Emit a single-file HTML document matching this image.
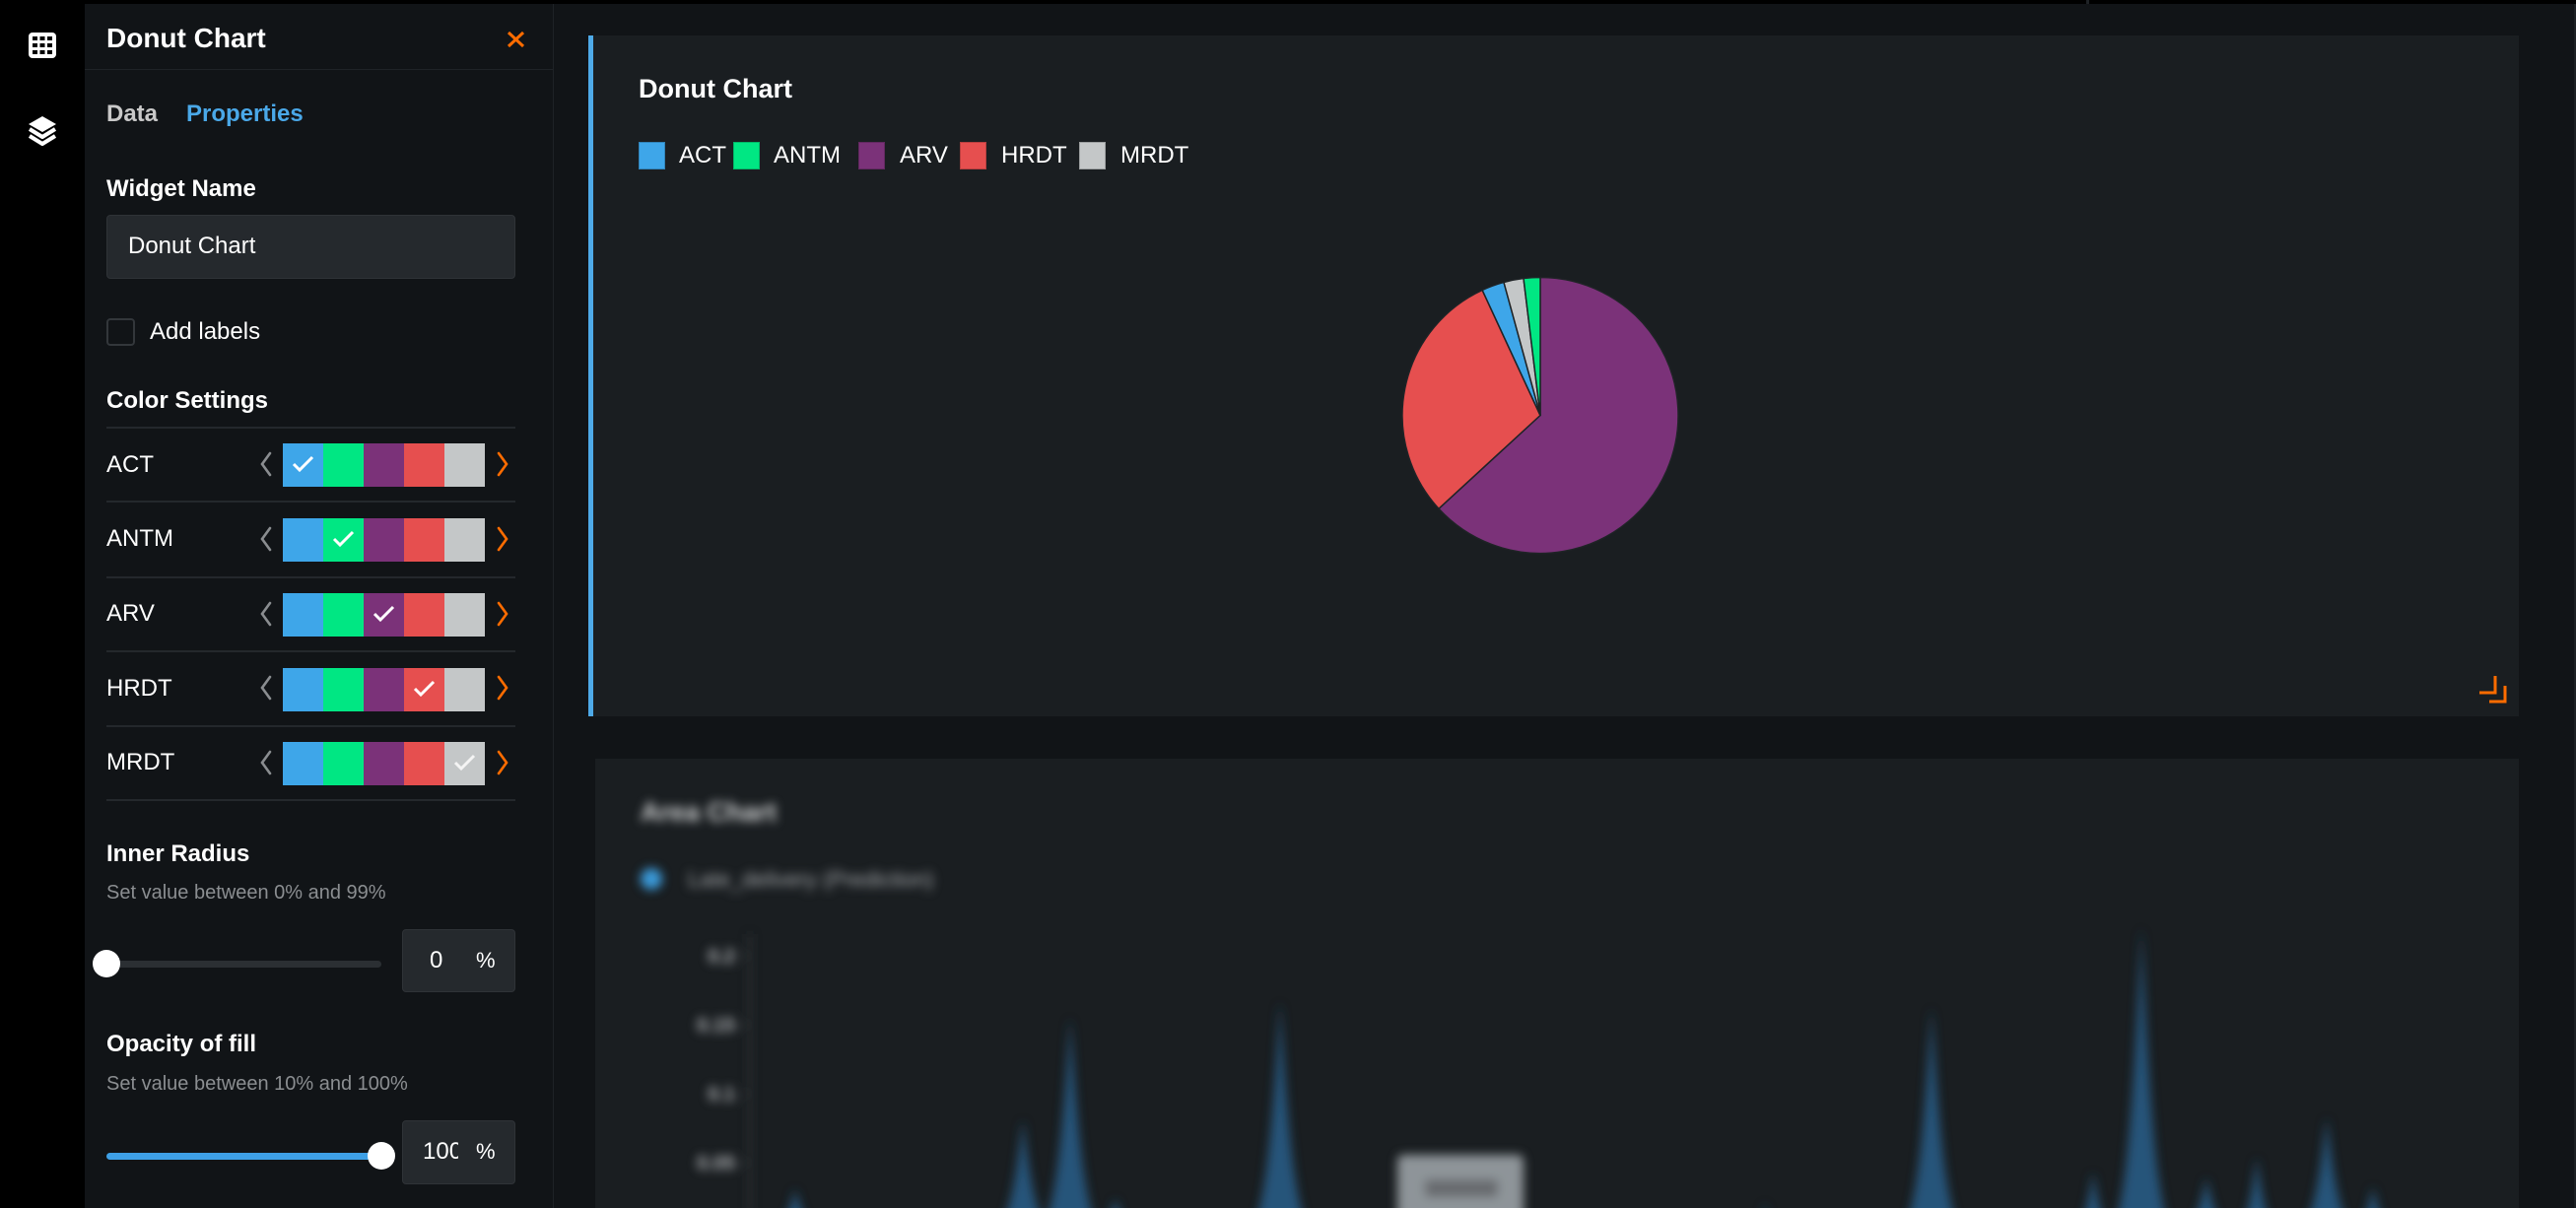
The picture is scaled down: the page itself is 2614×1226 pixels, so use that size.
<!DOCTYPE html>
<html>
<head>
<meta charset="utf-8">
<style>
  html,body{margin:0;padding:0;}
  body{width:2614px;height:1226px;overflow:hidden;background:#111417;position:relative;font-family:"Liberation Sans",Arial,sans-serif;}
  .a{position:absolute;}
  .t{position:absolute;white-space:nowrap;line-height:1;}
  .b{font-weight:bold;}
  .div{position:absolute;left:108px;width:415px;height:2px;background:#24282c;}
  .sw{position:absolute;left:287px;width:205px;height:44px;display:flex;}
  .sw span{display:block;width:41px;height:44px;position:relative;}
  .c1{background:#3ea6e9;}.c2{background:#00e783;}.c3{background:#7b3279;}.c4{background:#e64f4f;}.c5{background:#c4c7c8;}
  .chk{position:absolute;left:9px;top:12px;}
  .box{position:absolute;background:#25292d;border:1px solid #2f3337;border-radius:4px;box-sizing:border-box;}
</style>
</head>
<body>
<!-- top black bar -->
<div class="a" style="left:0;top:0;width:2614px;height:4px;background:#000;"></div>
<div class="a" style="left:2117px;top:0;width:3px;height:4px;background:#1e2226;"></div>
<!-- icon bar -->
<div class="a" style="left:0;top:0;width:86px;height:1226px;background:#000;"></div>
<svg class="a" style="left:0;top:0" width="86" height="160">
  <rect x="29" y="33" width="28" height="26" rx="4" fill="#fff"/>
  <g fill="#000">
    <rect x="33" y="37" width="5" height="4"/><rect x="40.5" y="37" width="5" height="4"/><rect x="48" y="37" width="5" height="4"/>
    <rect x="33" y="44" width="5" height="4"/><rect x="40.5" y="44" width="5" height="4"/><rect x="48" y="44" width="5" height="4"/>
    <rect x="33" y="51" width="5" height="4"/><rect x="40.5" y="51" width="5" height="4"/><rect x="48" y="51" width="5" height="4"/>
  </g>
  <polygon points="43,118 57,126 43,134 29,126" fill="#fff"/>
  <polyline points="30,131 43,139 56,131" fill="none" stroke="#fff" stroke-width="4" stroke-linejoin="round"/>
  <polyline points="30,138 43,146 56,138" fill="none" stroke="#fff" stroke-width="4" stroke-linejoin="round"/>
</svg>

<!-- side panel -->
<div class="a" style="left:86px;top:4px;width:475px;height:1222px;background:#111417;border-right:1px solid #1e2226;"></div>
<div class="a" style="left:86px;top:70px;width:475px;height:1px;background:#1f2327;"></div>
<div class="t b" style="left:108px;top:25px;font-size:28px;color:#fff;">Donut Chart</div>
<svg class="a" style="left:512px;top:30px" width="24" height="20">
  <line x1="4" y1="3" x2="19" y2="17" stroke="#ff6c00" stroke-width="3"/>
  <line x1="19" y1="3" x2="4" y2="17" stroke="#ff6c00" stroke-width="3"/>
</svg>
<div class="t b" style="left:108px;top:104px;font-size:24px;color:#c9c9c9;">Data</div>
<div class="t b" style="left:189px;top:104px;font-size:24px;color:#4aa8e8;">Properties</div>
<div class="t b" style="left:108px;top:180px;font-size:24px;color:#fff;">Widget Name</div>
<div class="box" style="left:108px;top:218px;width:415px;height:65px;"></div>
<div class="t" style="left:130px;top:238px;font-size:24px;color:#fff;">Donut Chart</div>
<div class="a" style="left:108px;top:323px;width:29px;height:28px;border:2px solid #33373b;border-radius:4px;box-sizing:border-box;"></div>
<div class="t" style="left:152px;top:325px;font-size:24px;color:#fff;">Add labels</div>
<div class="t b" style="left:108px;top:395px;font-size:24px;color:#fff;">Color Settings</div>

<div class="div" style="top:433px;"></div>
<div class="div" style="top:508px;"></div>
<div class="div" style="top:585px;"></div>
<div class="div" style="top:660px;"></div>
<div class="div" style="top:736px;"></div>
<div class="div" style="top:811px;"></div>

<div class="t" style="left:108px;top:460px;font-size:24px;color:#fff;">ACT</div>
<div class="t" style="left:108px;top:535px;font-size:24px;color:#fff;">ANTM</div>
<div class="t" style="left:108px;top:611px;font-size:24px;color:#fff;">ARV</div>
<div class="t" style="left:108px;top:687px;font-size:24px;color:#fff;">HRDT</div>
<div class="t" style="left:108px;top:762px;font-size:24px;color:#fff;">MRDT</div>

<div class="sw" style="top:450px;"><span class="c1"><svg class="chk" width="24" height="18"><polyline points="2,9 8,15 21,2" fill="none" stroke="#fff" stroke-width="3"/></svg></span><span class="c2"></span><span class="c3"></span><span class="c4"></span><span class="c5"></span></div>
<div class="sw" style="top:526px;"><span class="c1"></span><span class="c2"><svg class="chk" width="24" height="18"><polyline points="2,9 8,15 21,2" fill="none" stroke="#fff" stroke-width="3"/></svg></span><span class="c3"></span><span class="c4"></span><span class="c5"></span></div>
<div class="sw" style="top:602px;"><span class="c1"></span><span class="c2"></span><span class="c3"><svg class="chk" width="24" height="18"><polyline points="2,9 8,15 21,2" fill="none" stroke="#fff" stroke-width="3"/></svg></span><span class="c4"></span><span class="c5"></span></div>
<div class="sw" style="top:678px;"><span class="c1"></span><span class="c2"></span><span class="c3"></span><span class="c4"><svg class="chk" width="24" height="18"><polyline points="2,9 8,15 21,2" fill="none" stroke="#fff" stroke-width="3"/></svg></span><span class="c5"></span></div>
<div class="sw" style="top:753px;"><span class="c1"></span><span class="c2"></span><span class="c3"></span><span class="c4"></span><span class="c5"><svg class="chk" width="24" height="18"><polyline points="2,9 8,15 21,2" fill="none" stroke="#f4f4f4" stroke-width="3"/></svg></span></div>

<svg class="a" style="left:258px;top:440px" width="270" height="370">
  <g fill="none" stroke-width="2.6" stroke-linecap="round">
    <polyline points="16,20 8,31 16,42" stroke="#8a8d90"/>
    <polyline points="16,96 8,107 16,118" stroke="#8a8d90"/>
    <polyline points="16,172 8,183 16,194" stroke="#8a8d90"/>
    <polyline points="16,247 8,258 16,269" stroke="#8a8d90"/>
    <polyline points="16,323 8,334 16,345" stroke="#8a8d90"/>
    <polyline points="248,20 256,31 248,42" stroke="#ff6c00"/>
    <polyline points="248,96 256,107 248,118" stroke="#ff6c00"/>
    <polyline points="248,172 256,183 248,194" stroke="#ff6c00"/>
    <polyline points="248,247 256,258 248,269" stroke="#ff6c00"/>
    <polyline points="248,323 256,334 248,345" stroke="#ff6c00"/>
  </g>
</svg>

<div class="t b" style="left:108px;top:855px;font-size:24px;color:#fff;">Inner Radius</div>
<div class="t" style="left:108px;top:896px;font-size:20px;color:#8b8e91;">Set value between 0% and 99%</div>
<div class="a" style="left:108px;top:975px;width:279px;height:7px;border-radius:4px;background:#2b2f33;"></div>
<div class="a" style="left:94px;top:964px;width:28px;height:28px;border-radius:50%;background:#fff;"></div>
<div class="box" style="left:408px;top:943px;width:115px;height:64px;"></div>
<div class="t" style="left:436px;top:963px;font-size:24px;color:#fff;">0</div>
<div class="t" style="left:483px;top:964px;font-size:22px;color:#fff;">%</div>

<div class="t b" style="left:108px;top:1048px;font-size:24px;color:#fff;">Opacity of fill</div>
<div class="t" style="left:108px;top:1090px;font-size:20px;color:#8b8e91;">Set value between 10% and 100%</div>
<div class="a" style="left:108px;top:1170px;width:279px;height:7px;border-radius:4px;background:#3ea0e6;"></div>
<div class="a" style="left:373px;top:1159px;width:28px;height:28px;border-radius:50%;background:#fff;"></div>
<div class="box" style="left:408px;top:1137px;width:115px;height:65px;"></div>
<div class="a" style="left:429px;top:1150px;width:36px;height:30px;overflow:hidden;"><div class="t" style="left:0;top:7px;font-size:24px;color:#fff;">100</div></div>
<div class="t" style="left:483px;top:1158px;font-size:22px;color:#fff;">%</div>

<!-- right thin edge -->
<div class="a" style="left:2612px;top:4px;width:2px;height:1222px;background:#1c2023;"></div>

<!-- top card -->
<div class="a" style="left:597px;top:36px;width:1959px;height:691px;background:#1a1e21;"></div>
<div class="a" style="left:597px;top:36px;width:5px;height:691px;background:#4eaae8;"></div>
<div class="t b" style="left:648px;top:77px;font-size:27px;color:#fff;">Donut Chart</div>
<div class="a" style="left:648px;top:144px;width:27px;height:28px;background:#3ea6e9;box-shadow:inset 0 0 0 1px rgba(0,0,0,0.2);"></div>
<div class="t" style="left:689px;top:146px;font-size:24px;color:#fff;">ACT</div>
<div class="a" style="left:744px;top:144px;width:27px;height:28px;background:#00e783;box-shadow:inset 0 0 0 1px rgba(0,0,0,0.2);"></div>
<div class="t" style="left:785px;top:146px;font-size:24px;color:#fff;">ANTM</div>
<div class="a" style="left:871px;top:144px;width:27px;height:28px;background:#7b3279;box-shadow:inset 0 0 0 1px rgba(0,0,0,0.2);"></div>
<div class="t" style="left:913px;top:146px;font-size:24px;color:#fff;">ARV</div>
<div class="a" style="left:974px;top:144px;width:27px;height:28px;background:#e64f4f;box-shadow:inset 0 0 0 1px rgba(0,0,0,0.2);"></div>
<div class="t" style="left:1016px;top:146px;font-size:24px;color:#fff;">HRDT</div>
<div class="a" style="left:1095px;top:144px;width:27px;height:28px;background:#c4c7c8;box-shadow:inset 0 0 0 1px rgba(0,0,0,0.2);"></div>
<div class="t" style="left:1137px;top:146px;font-size:24px;color:#fff;">MRDT</div>

<!-- bottom card -->
<div class="a" style="left:604px;top:770px;width:1952px;height:456px;background:#1a1e21;"></div>

<svg class="a" style="left:0;top:0" width="2614" height="1226">
  <defs>
    <filter id="bl" x="-5%" y="-5%" width="110%" height="110%"><feGaussianBlur stdDeviation="5"/></filter>
    <clipPath id="cc"><rect x="604" y="770" width="1952" height="456"/></clipPath>
  </defs>
  <!-- pie -->
  <g stroke="#1f2326" stroke-width="1.5" stroke-linejoin="round">
    <path d="M1563,421.5 L1563,281.5 A140,140 0 1 1 1459.95,516.27 Z" fill="#7b3279"/>
    <path d="M1563,421.5 L1459.95,516.27 A140,140 0 0 1 1504.16,294.46 Z" fill="#e64f4f"/>
    <path d="M1563,421.5 L1504.16,294.46 A140,140 0 0 1 1525.98,286.48 Z" fill="#3ea6e9"/>
    <path d="M1563,421.5 L1525.98,286.48 A140,140 0 0 1 1546.02,282.54 Z" fill="#c4c7c8"/>
    <path d="M1563,421.5 L1546.02,282.54 A140,140 0 0 1 1563,281.5 Z" fill="#00e783"/>
  </g>
  <!-- resize icon -->
  <g fill="none" stroke="#ff6c00" stroke-width="3">
    <polyline points="2516,703 2532,703 2532,686"/>
    <polyline points="2526,712 2542,712 2542,696"/>
  </g>
  <!-- blurred area chart -->
  <g clip-path="url(#cc)">
  <g filter="url(#bl)">
    <text x="650" y="833" font-family="Liberation Sans, Arial, sans-serif" font-size="27" font-weight="bold" fill="#d2d4d5">Area Chart</text>
    <circle cx="661" cy="892" r="11" fill="#3a9ad9"/>
    <text x="698" y="900" font-family="Liberation Sans, Arial, sans-serif" font-size="22" fill="#a2a5a8">Late_delivery (Prediction)</text>
    <line x1="761" y1="948" x2="761" y2="1230" stroke="#3b3f43" stroke-width="2"/>
    <g stroke="#3b3f43" stroke-width="2">
      <line x1="752" y1="970" x2="761" y2="970"/><line x1="752" y1="1040" x2="761" y2="1040"/>
      <line x1="752" y1="1110" x2="761" y2="1110"/><line x1="752" y1="1180" x2="761" y2="1180"/>
    </g>
    <g font-family="Liberation Sans, Arial, sans-serif" font-size="20" font-weight="bold" fill="#b0b3b6" text-anchor="end">
      <text x="746" y="977">0.2</text><text x="746" y="1047">0.15</text>
      <text x="746" y="1117">0.1</text><text x="746" y="1187">0.05</text>
    </g>
    <g fill="#28557a">
      <path d="M779,1250 C797,1250 804,1218 807,1207 C810,1218 817,1250 835,1250 Z"/>
      <path d="M1006,1250 C1027,1250 1034,1165 1038,1137 C1042,1165 1049,1250 1070,1250 Z"/>
      <path d="M1052,1250 C1074,1250 1082,1087 1086,1033 C1090,1087 1098,1250 1120,1250 Z"/>
      <path d="M1110,1250 C1124,1250 1129,1225 1132,1217 C1135,1225 1140,1250 1154,1250 Z"/>
      <path d="M1265,1250 C1287,1250 1295,1075 1299,1017 C1303,1075 1311,1250 1333,1250 Z"/>
      <path d="M1771,1250 C1784,1250 1789,1228 1791,1220 C1793,1228 1798,1250 1811,1250 Z" opacity="0.4"/>
      <path d="M1926,1250 C1948,1250 1956,1080 1960,1023 C1964,1080 1972,1250 1994,1250 Z"/>
      <path d="M2102,1250 C2116,1250 2121,1205 2124,1190 C2127,1205 2132,1250 2146,1250 Z"/>
      <path d="M2139,1250 C2161,1250 2169,1019 2173,942 C2177,1019 2185,1250 2207,1250 Z"/>
      <path d="M2211,1250 C2229,1250 2236,1209 2239,1195 C2242,1209 2249,1250 2267,1250 Z"/>
      <path d="M2266,1250 C2282,1250 2287,1194 2290,1175 C2293,1194 2298,1250 2314,1250 Z"/>
      <path d="M2329,1250 C2350,1250 2357,1164 2361,1135 C2365,1164 2372,1250 2393,1250 Z"/>
      <path d="M2384,1250 C2400,1250 2405,1216 2408,1205 C2411,1216 2416,1250 2432,1250 Z"/>
    </g>
    <rect x="1418" y="1172" width="128" height="70" rx="6" fill="#8e9499"/>
    <rect x="1446" y="1197" width="74" height="18" rx="3" fill="#676b6e"/>
  </g>
  </g>
</svg>
</body>
</html>
